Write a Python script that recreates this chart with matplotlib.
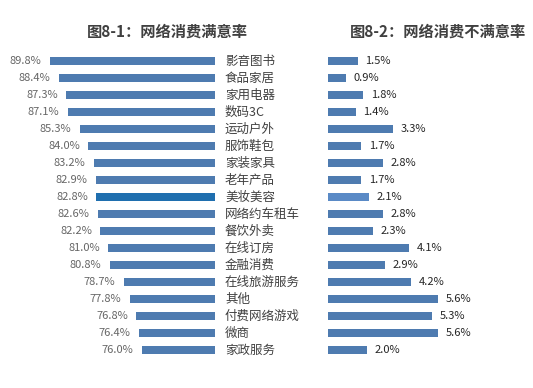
import matplotlib
matplotlib.use("Agg")
import matplotlib.pyplot as plt

plt.rcParams['font.family'] = ['Noto Sans CJK SC', 'DejaVu Sans']

categories = ["影音图书", "食品家居", "家用电器", "数码3C", "运动户外", "服饰鞋包", "家装家具",
              "老年产品", "美妆美容", "网络约车租车", "餐饮外卖", "在线订房", "金融消费",
              "在线旅游服务", "其他", "付费网络游戏", "微商", "家政服务"]
satisfaction = [89.8, 88.4, 87.3, 87.1, 85.3, 84.0, 83.2, 82.9, 82.8, 82.6, 82.2, 81.0,
                80.8, 78.7, 77.8, 76.8, 76.4, 76.0]
dissatisfaction = [1.5, 0.9, 1.8, 1.4, 3.3, 1.7, 2.8, 1.7, 2.1, 2.8, 2.3, 4.1, 2.9, 4.2,
                   5.6, 5.3, 5.6, 2.0]
title_left = "图8-1：网络消费满意率"
title_right = "图8-2：网络消费不满意率"
highlight = "美妆美容"

W, H = 533, 388
fig = plt.figure(figsize=(W / 100, H / 100), dpi=100)
fig.patch.set_facecolor("white")

base_color = "#4E7BB0"
hl_left = "#1F6FAF"
hl_right = "#5A8AC6"

n = len(categories)
row_px = 17.0
top_px = 61 - row_px / 2
ax_h = n * row_px
bottom = (H - (top_px + ax_h)) / H

# left axis: px 30..215, baseline 65 at right, 6.667 px per %
ppu_l = 6.667
lx0, lx1 = 30, 215
axL = fig.add_axes([lx0 / W, bottom, (lx1 - lx0) / W, ax_h / H])
axL.set_xlim(65 + (lx1 - lx0) / ppu_l, 65)
axL.set_ylim(n - 0.5, -0.5)
y = list(range(n))
colors_l = [hl_left if c == highlight else base_color for c in categories]
axL.barh(y, [v - 65 for v in satisfaction], left=65, height=0.42, color=colors_l)
for i, v in enumerate(satisfaction):
    axL.annotate(f"{v:.1f}%", xy=(v, i), xytext=(-6, 0), textcoords="offset points",
                 ha="right", va="center", fontsize=8, color="#666666")
for i, c in enumerate(categories):
    axL.text((225 - lx0) / (lx1 - lx0), i, c, transform=axL.get_yaxis_transform(),
             ha="left", va="center", fontsize=9, color="#404040")
axL.axis("off")

# right axis: starts px 328, 19.7 px per %
ppu_r = 19.7
rx0, rx1 = 328, 533
axR = fig.add_axes([rx0 / W, bottom, (rx1 - rx0) / W, ax_h / H])
axR.set_xlim(0, (rx1 - rx0) / ppu_r)
axR.set_ylim(n - 0.5, -0.5)
colors_r = [hl_right if c == highlight else base_color for c in categories]
axR.barh(y, dissatisfaction, height=0.42, color=colors_r)
for i, v in enumerate(dissatisfaction):
    axR.annotate(f"{v:.1f}%", xy=(v, i), xytext=(5.5, 0), textcoords="offset points",
                 ha="left", va="center", fontsize=8, color="#262626")
axR.axis("off")

fig.text(167 / W, 1 - 32 / H, title_left, ha="center", va="center", fontsize=11,
         fontweight="bold", color="#404040")
fig.text(438 / W, 1 - 32 / H, title_right, ha="center", va="center", fontsize=11,
         fontweight="bold", color="#404040")

fig.savefig("out.png", dpi=100, facecolor="white")
